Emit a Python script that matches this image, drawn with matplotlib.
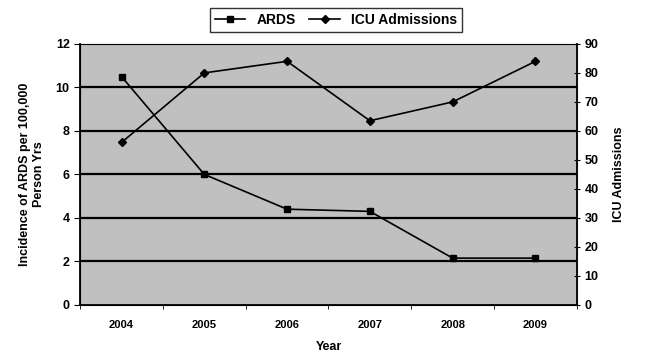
import numpy as np
import matplotlib.pyplot as plt

# values
years = ["2004", "2005", "2006", "2007", "2008", "2009"]
ards = [10.5, 6.0, 4.4, 4.3, 2.15, 2.15]
icu = [56, 80, 84, 63.5, 70, 84]

plt.rcParams['font.family'] = ['Liberation Sans', 'DejaVu Sans']
plt.rcParams['font.size'] = 9
plt.rcParams['font.weight'] = 'bold'

fig = plt.figure(figsize=(6.46, 3.57), dpi=100)
ax = fig.add_axes([0.124, 0.146, 0.769, 0.731])
ax.set_facecolor("#c0c0c0")

x = np.arange(len(years))
l1, = ax.plot(x, ards, color="black", lw=1.2, marker="s", ms=5, label="ARDS")
ax.set_xlim(-0.5, len(years) - 0.5)
ax.set_ylim(0, 12)
ax.set_yticks(np.arange(0, 13, 2))
for v in range(2, 12, 2):
    ax.axhline(v, color="black", lw=1.6, zorder=0.5)
ax.set_xticks(x)
ax.set_xticklabels(years, fontsize=8)
ax.set_xticks(np.arange(-0.5, len(years), 1), minor=True)
ax.tick_params(axis="x", which="major", length=0, pad=11)
ax.tick_params(axis="x", which="minor", length=3, direction="out")
ax.tick_params(axis="y", length=4, direction="out")
ax.set_xlabel("Year", labelpad=8, fontweight="bold")
ax.set_ylabel("Incidence of ARDS per 100,000\nPerson Yrs", labelpad=8, fontweight="bold")
for s in ["top", "right"]:
    ax.spines[s].set_color("#909090")
ax.spines["left"].set_linewidth(1.3)
ax.spines["bottom"].set_linewidth(1.3)

ax2 = ax.twinx()
l2, = ax2.plot(x, icu, color="black", lw=1.2, marker="D", ms=4, label="ICU Admissions")
ax2.set_ylim(0, 90)
ax2.set_yticks(np.arange(0, 91, 10))
ax2.tick_params(axis="y", length=4, direction="inout")
ax2.set_ylabel("ICU Admissions", labelpad=10, fontweight="bold")
ax2.spines["right"].set_linewidth(1.3)
ax2.spines["right"].set_color("black")

fig.legend(handles=[l1, l2], loc="center", bbox_to_anchor=(0.52, 0.944), ncol=2,
           frameon=True, fancybox=False, edgecolor="black", fontsize=10,
           handlelength=2.2, columnspacing=1.0, borderpad=0.35,
           prop={"size": 10, "weight": "bold"})

fig.savefig("out.png", dpi=100)
